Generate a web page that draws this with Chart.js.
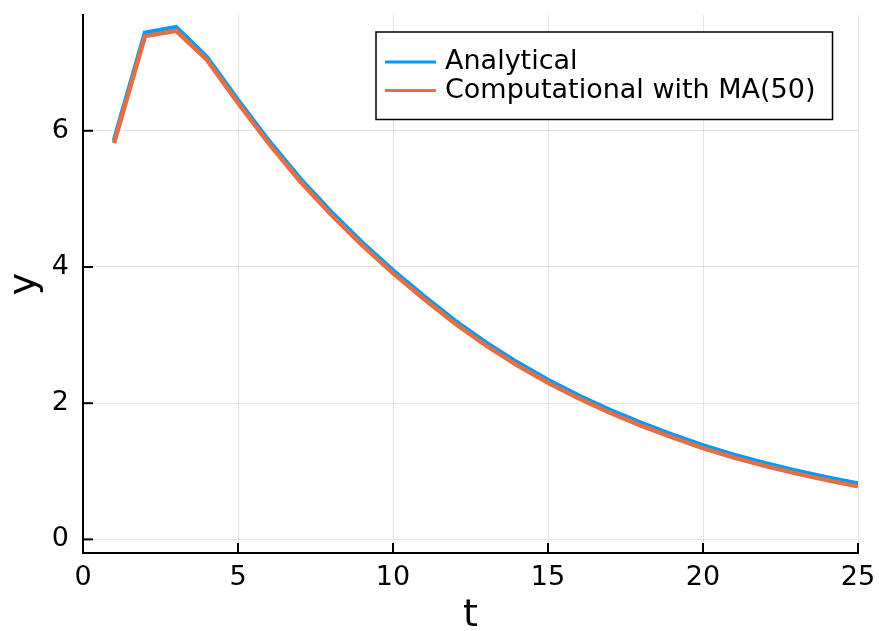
<!DOCTYPE html>
<html>
<head>
<meta charset="utf-8">
<script src="https://cdn.jsdelivr.net/npm/chart.js@4"></script>
<style>
  html, body { margin: 0; padding: 0; background: #fff; }
  #wrap { width: 879px; height: 631px; }
</style>
</head>
<body>
<div id="wrap"><canvas id="c1" width="879" height="631"></canvas></div>
<script>
// values
const tValues = [1,2,3,4,5,6,7,8,9,10,11,12,13,14,15,16,17,18,19,20,21,22,23,24,25];
const analytical = [5.86,7.44,7.52,7.08,6.45,5.85,5.30,4.81,4.36,3.95,3.57,3.21,2.89,2.60,2.34,2.11,1.90,1.71,1.54,1.38,1.24,1.12,1.01,0.91,0.82];
const computational = [5.82,7.39,7.47,7.04,6.41,5.81,5.26,4.77,4.32,3.91,3.53,3.17,2.85,2.56,2.30,2.07,1.86,1.67,1.50,1.34,1.20,1.08,0.97,0.87,0.78];
const xTicks = [0,5,10,15,20,25];
const yTicks = [0,2,4,6];

const seriesNames = ['Analytical', 'Computational with MA(50)'];
const seriesColors = ['#009AFA', '#E26F46'];

const FONT = "'DejaVu Sans', sans-serif";

const toPoints = (ys) => tValues.map((t, i) => ({x: t, y: ys[i]}));

// Julia style ticks point inwards, drawn from the scales
const innerTicks = {
    id: 'innerTicks',
    afterDatasetsDraw(chart) {
        const ctx = chart.ctx;
        const a = chart.chartArea;
        const xs = chart.scales.x, ys = chart.scales.y;
        ctx.save();
        ctx.strokeStyle = '#000';
        ctx.lineWidth = 2;
        xTicks.forEach(v => {
            const px = xs.getPixelForValue(v);
            ctx.beginPath();
            ctx.moveTo(px, a.bottom);
            ctx.lineTo(px, a.bottom - 10);
            ctx.stroke();
        });
        yTicks.forEach(v => {
            const py = ys.getPixelForValue(v);
            ctx.beginPath();
            ctx.moveTo(a.left, py);
            ctx.lineTo(a.left + 10, py);
            ctx.stroke();
        });
        ctx.restore();
    }
};

// boxed legend in the top right corner
const boxLegend = {
    id: 'boxLegend',
    afterDraw(chart) {
        const ctx = chart.ctx;
        const a = chart.chartArea;
        const right = a.right - 25.5, top = a.top + 17;
        const left = 376, bottom = top + 87.5;
        ctx.save();
        ctx.fillStyle = '#fff';
        ctx.fillRect(left, top, right - left, bottom - top);
        ctx.strokeStyle = '#000';
        ctx.lineWidth = 1.5;
        ctx.strokeRect(left, top, right - left, bottom - top);
        ctx.font = '27px ' + FONT;
        ctx.textBaseline = 'middle';
        ctx.textAlign = 'left';
        chart.data.datasets.forEach((ds, i) => {
            const y = top + 30 + i * 28.5;
            ctx.strokeStyle = ds.borderColor;
            ctx.lineWidth = 3;
            ctx.beginPath();
            ctx.moveTo(left + 9, y);
            ctx.lineTo(left + 60, y);
            ctx.stroke();
            ctx.fillStyle = '#000';
            ctx.fillText(ds.label, left + 69, y);
        });
        ctx.restore();
    }
};

function createLineChart(ctx){
    return new Chart(ctx, {
        type: 'line',
        data: {
            datasets: [
                // order 1 so the computational line is drawn over it
                {label: seriesNames[0], order: 1, data: toPoints(analytical), borderColor: seriesColors[0], borderWidth: 4.5, pointRadius: 0, tension: 0, fill: false},
                {label: seriesNames[1], order: 0, data: toPoints(computational), borderColor: seriesColors[1], borderWidth: 4.5, pointRadius: 0, tension: 0, fill: false}
            ]
        },
        options: {
            responsive: false,
            animation: false,
            events: [],
            layout: {padding: {left: 0, top: 15, right: 21, bottom: 0}},
            plugins: {legend: {display: false}, tooltip: {enabled: false}},
            scales: {
                x: {
                    type: 'linear',
                    min: 0,
                    max: 25,
                    afterBuildTicks: (s) => { s.ticks = xTicks.map(v => ({value: v})); },
                    afterFit: (s) => { s.height = 78; s.paddingLeft = 0; s.paddingRight = 0; },
                    grid: {color: 'rgba(0,0,0,0.1)', lineWidth: 1, drawTicks: false},
                    border: {color: '#000', width: 2},
                    ticks: {color: '#000', padding: 9, maxRotation: 0, font: {family: FONT, size: 27}},
                    title: {display: true, text: 't', color: '#000', padding: {top: 0, bottom: 0}, font: {family: FONT, size: 38, lineHeight: 0.8}}
                },
                y: {
                    type: 'linear',
                    min: -0.2,
                    max: 7.7,
                    afterBuildTicks: (s) => { s.ticks = yTicks.map(v => ({value: v})); },
                    afterFit: (s) => { s.width = 83; s.paddingTop = 0; s.paddingBottom = 0; },
                    grid: {color: 'rgba(0,0,0,0.1)', lineWidth: 1, drawTicks: false},
                    border: {color: '#000', width: 2},
                    ticks: {color: '#000', padding: 14, font: {family: FONT, size: 27}},
                    title: {display: true, text: 'y', color: '#000', padding: {top: 6, bottom: 0}, font: {family: FONT, size: 38, lineHeight: 1}}
                }
            }
        },
        plugins: [innerTicks, boxLegend]
    });
}

const c1 = createLineChart(document.getElementById('c1'));
</script>
</body>
</html>
